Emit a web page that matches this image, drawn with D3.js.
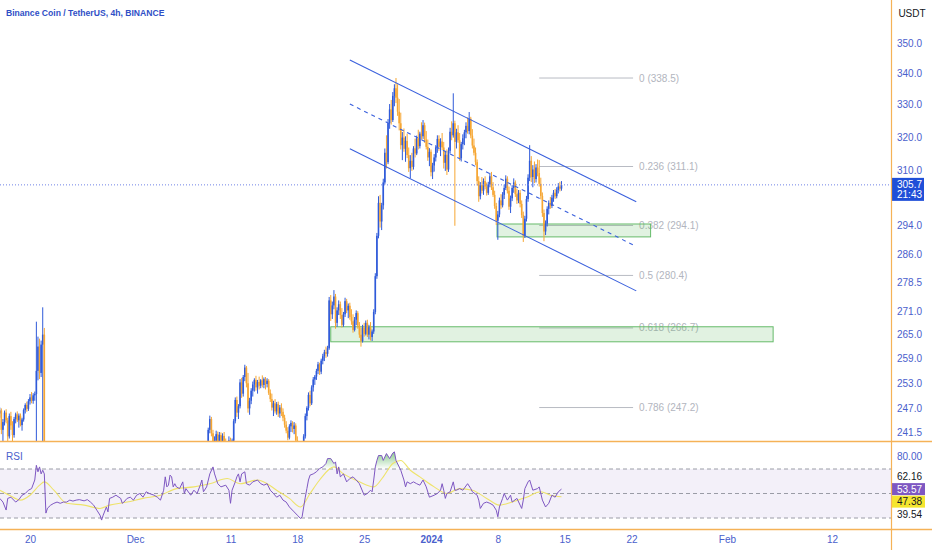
<!DOCTYPE html>
<html>
<head>
<meta charset="utf-8">
<title>Binance Coin / TetherUS, 4h</title>
<script src="https://cdn.jsdelivr.net/npm/d3@7/dist/d3.min.js"></script>
<style>
  html, body { margin: 0; padding: 0; background: #fff; overflow: hidden; }
  svg { display: block; font-family: "Liberation Sans", Arial, sans-serif; }
</style>
</head>
<body>
<svg id="chart" width="932" height="550"></svg>
<script>
// 4h candles, index 0 = 16 Nov 2023 16:00 UTC  ->  [index, open, high, low, close]
// candles 30..130 trade under the visible price range, so they are not listed
const candles = [
  [0,244,246.5,242.5,245.8],[1,245.8,247.2,244.8,246.5],[2,246.5,247,241,242],[3,242,244.5,238,243.8],
  [4,243.8,246.5,243,246],[5,246,246.8,243.5,244.2],[6,244.2,244.8,238.5,240.5],[7,240.5,245.8,240,245.2],
  [8,245.2,246.2,242,243],[9,243,244,239,240.8],[10,240.8,245,240.2,244.5],[11,244.5,246,243.5,245.6],
  [12,245.6,246.3,243.8,244.2],[13,244.2,245.8,242.5,245.3],[14,245.3,245.8,242.8,243.1],[15,243.1,244.8,241.8,244.4],
  [16,244.4,247,243.9,246.6],[17,246.6,248.2,245.8,247.8],[18,247.8,248.6,246.2,246.9],[19,246.9,249.2,246.4,248.7],
  [20,248.7,250.4,247.9,249.6],[21,249.6,250.9,248.2,248.8],[22,248.8,250.6,248.1,250.1],[23,250.1,251,248.8,250.4],
  [24,250.4,268.3,239,256],[25,256,264.5,253.7,262],[26,262,264,254,255.5],[27,255.5,263.5,254.5,262.5],
  [28,262.5,272,238,265],[29,265,266.7,225,229],
  [131,236,239,234.5,238],[132,238,242.5,237.5,242],[133,242,245.3,241.2,244.5],[134,244.5,245,240.5,241.2],
  [135,241.2,242,238,238.8],[136,238.8,240.5,237,239.5],[137,239.5,241.8,238.5,241],[138,241,241.6,238.2,239],
  [139,239,241.5,238,240.8],[140,240.8,241.4,238.5,239.2],[141,239.2,241.2,237.8,240.6],[142,240.6,241.5,238,238.6],
  [143,238.6,240,236.5,237.5],[144,237.5,239.2,236,238.8],[145,238.8,240.5,237.5,239.6],[146,239.6,240.2,237.2,238],
  [147,238,240,236.8,239.5],[148,239.5,244.5,239,244],[149,244,249.6,243.5,249],[150,249,249.8,245,246],
  [151,246,248,244.5,247.5],[152,247.5,254,247,253.2],[153,253.2,254.3,249.5,250.5],[154,250.5,255,249.8,254.5],
  [155,254.5,257.5,253.5,256.8],[156,256.8,257.2,252,253],[157,253,255.5,246,247],[158,247,249.5,245.5,248.8],
  [159,248.8,251.8,248,251.2],[160,251.2,253.4,249.8,252.7],[161,252.7,254.2,251,253.8],[162,253.8,254.8,251.2,252],
  [163,252,253.8,250.5,253.3],[164,253.3,254.6,251.5,252.4],[165,252.4,254,251.8,253.7],[166,253.7,254.9,252,252.6],
  [167,252.6,254.4,251.8,254],[168,254,254.5,251.5,252.8],[169,252.8,254.2,252,253.6],[170,253.6,254,250.2,250.7],
  [171,250.7,251.5,248.5,249.2],[172,249.2,250.5,246.5,247.2],[173,247.2,248.8,245.2,248.2],[174,248.2,249.2,245.8,246.3],
  [175,246.3,248.5,245.5,248],[176,248,248.6,245,245.8],[177,245.8,247.8,244.8,247.2],[178,247.2,248.2,245.2,246.2],
  [179,246.2,247,244,244.8],[180,244.8,245.5,242.5,243.2],[181,243.2,244,241.2,241.8],[182,241.8,242.6,239.6,240.2],
  [183,240.2,243.3,239.8,242.8],[184,242.8,244.2,241.5,243.6],[185,243.6,244,241.4,242.2],[186,242.2,243.8,241,243],
  [187,243,243.5,239,239.6],[188,239.6,240.5,236,237],[189,237,238.2,234.5,235.5],[190,235.5,237.5,234,236.8],
  [191,236.8,238.6,235.5,238.2],[192,238.2,241,237.6,240.5],[193,240.5,245.8,240,245.2],[194,245.2,247.5,244.2,247.1],
  [195,247.1,250.8,246.5,250.2],[196,250.2,251.2,247.5,248.2],[197,248.2,252.5,247.8,252],[198,252,254.5,251,253.9],
  [199,253.9,255,252.6,254.6],[200,254.6,256.5,253.8,256],[201,256,258.2,255.2,257.6],[202,257.6,258,255,255.8],
  [203,255.8,259,255.2,258.5],[204,258.5,260.2,257.6,259.6],[205,259.6,261.2,258.4,260.6],[206,260.6,262,259.2,260.2],
  [207,260.2,262.2,259.5,261.6],[208,261.6,274.7,261.2,273.8],[209,273.8,275.2,268.5,270.2],[210,270.2,273.5,269,272.5],
  [211,272.5,276.5,271.5,274.8],[212,274.8,275.5,266.5,268],[213,268,272,267,271.2],[214,271.2,273.8,270,272.8],
  [215,272.8,273.5,269,270],[216,270,271.8,266.8,267.5],[217,267.5,270.8,267,270.2],[218,270.2,274.5,269.5,273.6],
  [219,273.6,274.2,270.5,271.2],[220,271.2,273,269.2,272.4],[221,272.4,273.2,268.8,269.5],[222,269.5,271.5,267.5,268.4],
  [223,268.4,270.2,265.5,266.2],[224,266.2,269.5,265.8,268.8],[225,268.8,271.2,267.4,270.5],[226,270.5,271,266.5,267.3],
  [227,267.3,268.2,264.2,265],[228,265,266.8,262,263.4],[229,263.4,267.5,263,266.8],[230,266.8,268,264.5,265.2],
  [231,265.2,268.6,264.8,268],[232,268,268.8,264.4,265],[233,265,267.5,263.8,266.9],[234,266.9,268.2,263.5,264.4],
  [235,264.4,266.3,263.4,265.8],[236,265.8,271.5,265.2,270.8],[237,270.8,281,270.2,280.2],[238,280.2,292,279.5,291.2],
  [239,291.2,302.4,290.5,300.5],[240,300.5,302.8,293.5,295.2],[241,295.2,300.5,292.8,299.8],[242,299.8,307.5,298.6,306.4],
  [243,306.4,316.5,305.8,315.2],[244,315.2,320.5,310.5,312.4],[245,312.4,325.5,311.8,324.2],[246,324.2,330.2,322.5,328.5],
  [247,328.5,331.5,323.8,325.2],[248,325.2,334,324.6,332.8],[249,332.8,336.5,329.5,335.2],[250,335.2,338.5,330.5,332.2],
  [251,332.2,336.5,326.5,327.8],[252,327.8,331.8,322,324.2],[253,324.2,327.5,316.2,317.5],[254,317.5,321.5,313,319.8],
  [255,319.8,322.6,315.5,316.4],[256,316.4,320.2,312.5,318.8],[257,318.8,321,313.6,314.5],[258,314.5,316.8,309.5,310.6],
  [259,310.6,314.5,307.6,312.8],[260,312.8,315.2,309.8,311],[261,311,317.2,310.2,316.5],[262,316.5,319.5,313.8,315],
  [263,315,320.4,314.5,319.6],[264,319.6,322.2,316.2,317.2],[265,317.2,321.6,316.5,321],[266,321,324.5,319.2,320.2],
  [267,320.2,325.2,319.4,323.6],[268,323.6,324.4,318.2,319.2],[269,319.2,321.8,316.2,317],[270,317,319.2,312.8,313.8],
  [271,313.8,316.6,311.2,315.5],[272,315.5,316.2,308.2,309.4],[273,309.4,312.2,307.4,311.4],[274,311.4,314.8,309.6,313.8],
  [275,313.8,317.5,312.6,316.8],[276,316.8,320.5,315.2,319.4],[277,319.4,320.5,315.8,317],[278,317,319.6,314.2,318.6],
  [279,318.6,321.2,316,316.8],[280,316.8,318.5,310.5,312.2],[281,312.2,315.8,309.8,314.6],[282,314.6,316.2,308.6,310.2],
  [283,310.2,316.8,309.5,315.8],[284,315.8,322.8,315,321.6],[285,321.6,324.8,319,320.5],[286,320.5,333.6,319.8,324.2],
  [287,324.2,325,294,318.5],[288,318.5,322.5,316.5,321.4],[289,321.4,323.6,318.2,319],[290,319,321.2,312.8,313.6],
  [291,313.6,318.5,312.6,317.8],[292,317.8,320.8,316.2,319.6],[293,319.6,322.2,317.5,321.4],[294,321.4,324.5,319.6,323.4],
  [295,323.4,326,321,321.8],[296,321.8,327.7,320.8,325.6],[297,325.6,326.2,319.6,320.4],[298,320.4,322.4,316.5,317.4],
  [299,317.4,319.5,314.4,315.2],[300,315.2,316.8,311.5,312.4],[301,312.4,313.2,305.5,306.8],[302,306.8,308.2,300.8,302.4],
  [303,302.4,306.5,301.5,305.6],[304,305.6,308,303.2,304],[305,304,307.6,302.8,306.8],[306,306.8,308.2,304.4,305.2],
  [307,305.2,306.4,302.6,303.4],[308,303.4,306.6,302.8,305.8],[309,305.8,309.2,305,308.2],[310,308.2,309.5,304.2,305],
  [311,305,306.5,302.2,302.8],[312,302.8,304,298.8,299.6],[313,299.6,300.5,294.2,295.4],[314,295.4,298.2,290.1,297.2],
  [315,297.2,302,296.4,301.2],[316,301.2,303,298.8,299.8],[317,299.8,303.6,299.2,302.8],[318,302.8,305.8,301.6,304.8],
  [319,304.8,308.5,304.2,307.5],[320,307.5,308.2,303.2,304],[321,304,305.2,298.5,299.4],[322,299.4,302.6,297.6,301.8],
  [323,301.8,305.6,301,304.8],[324,304.8,307.6,303.4,306.4],[325,306.4,307,302.2,303],[326,303,304.6,300.2,301.2],
  [327,301.2,304.2,300.4,303.4],[328,303.4,304.2,299.2,300.2],[329,300.2,301.2,296.2,297],[330,297,298,289.5,291.2],
  [331,291.2,296.8,290.6,296],[332,296,302.5,295.2,301.6],[333,301.6,308.8,300.8,307.8],[334,307.8,317.5,306.8,312.8],
  [335,312.8,314.2,306.5,308],[336,308,311.5,305,310.2],[337,310.2,312.6,306.2,307.4],[338,307.4,311.8,306.4,310.8],
  [339,310.8,313.2,308.2,309.2],[340,309.2,313,305.2,306],[341,306,307.8,301.5,302.5],[342,302.5,303.5,296.5,297.6],
  [343,297.6,298.6,289.7,292.4],[344,292.4,295.5,291.4,294.6],[345,294.6,299.5,293.8,298.8],[346,298.8,301.2,297.2,300.5],
  [347,300.5,302.2,298.8,299.6],[348,299.6,302.8,299,302],[349,302,304.2,300.8,303.4],[350,303.4,304.5,301.6,302.4],
  [351,302.4,305,301.8,304.2],[352,304.2,306.2,303.2,305.2],[353,305.2,306.6,303.8,304.6],[354,304.6,306.8,304,305.7]
];

// RSI (14): [candle index, value]
const rsiPoints = [
  [1,46],[3,43],[5,36.5],[6,46],[8,47],[11,43],[13,45],[15,48.6],[17,50],[19,52.7],[21,54],[23,61],[24,73],[25,67.7],
  [26,71.7],[27,66],[28,69],[29,66],[30,34],[31,38],[33,40.5],[35,42],[37,43],[39,42],[41,43],[43,43],[45,44.6],[47,43.8],
  [49,44.6],[51,45],[54,44],[56,45],[58,43],[60,40.5],[62,36.4],[64,32.3],[65,28.3],[66,32.3],[68,39],[69,35],[70,46],
  [72,47],[74,48.6],[77,46],[78,42],[79,43],[81,46],[83,47],[85,44.6],[87,48.6],[89,50],[91,47],[93,51.4],[95,50],
  [98,48.6],[100,47],[102,44.6],[104,52.7],[105,63.6],[106,55.4],[107,56.8],[108,65],[109,63.6],[110,55.4],[111,58],
  [112,55.4],[114,54],[116,59.5],[117,50],[118,54],[121,48.6],[123,52.7],[125,50],[127,56.8],[128,61],[129,51.4],
  [131,55.4],[133,66],[135,71.7],[136,66],[138,58],[140,55.4],[143,56.8],[145,52.7],[146,42],[147,52.7],[149,59.5],
  [150,63.6],[151,66],[152,59.5],[153,66],[155,67.7],[156,58],[158,56.8],[160,59.5],[163,61],[165,58],[167,56.8],
  [169,58],[171,52.7],[173,50],[175,47],[177,48.6],[179,44.6],[181,43],[183,39],[186,35],[188,32.3],[190,29.6],[191,31],
  [192,39],[193,47],[194,54],[195,61],[196,65],[198,66],[200,67.7],[202,70.4],[204,71.7],[206,74.5],[207,78.5],[209,78.5],
  [211,74.5],[212,75.8],[213,66],[214,71.7],[215,63.6],[217,66],[219,59.5],[221,62.2],[223,63.6],[225,61],[227,58],
  [230,48.6],[232,50],[234,52.7],[235,51.4],[236,61],[237,71.7],[238,77],[239,81],[241,81],[242,77],[244,82.6],[246,78.5],
  [248,83],[249,84],[250,77],[253,69],[255,61],[256,55.4],[257,59.5],[259,58],[261,59.5],[263,58],[265,56.8],[267,61],
  [269,55.4],[271,47],[274,48.6],[276,50],[278,52.7],[279,58],[280,52.7],[281,46],[282,50],[284,51.4],[286,59.5],
  [287,52.7],[288,52.7],[290,54],[292,52.7],[295,58],[297,54],[298,51.4],[301,48.6],[302,44.6],[303,37.8],[305,42],
  [307,43],[309,42],[311,40.5],[313,36.4],[314,31],[315,39],[317,46],[318,50],[320,44.6],[322,48.6],[323,43],[326,46],
  [328,40.5],[329,37.8],[330,44.6],[331,54],[333,59.5],[334,61],[336,52.7],[339,54],[340,55.4],[342,44.6],[344,39],
  [346,42],[348,48.6],[350,47],[352,51.4],[354,53.57]
];

// RSI-based moving average (yellow), same indexing
const rsiMaPoints = [
  [1,52.7],[7,48.6],[14,44.6],[20,48.6],[26,56.8],[29,59.5],[35,52.7],[43,42],[54,40.5],[64,37.8],[70,40.5],[81,43],
  [91,46],[102,48.6],[112,54],[123,55.4],[133,58],[144,62.2],[152,58],[163,61],[169,58],[175,52.7],[183,46],[190,39],
  [196,50],[202,61],[211,71.7],[217,66],[227,59.5],[236,55.4],[242,63.6],[248,74.5],[253,77],[259,69],[265,63.6],
  [274,55.4],[282,50],[290,54],[298,52.7],[307,46],[315,40.5],[323,43],[332,47],[341,51.4],[347,48.6],[354,47.38]
];

const priceTicks = [350, 340, 330, 320, 310, 294, 286, 278.5, 271, 265, 259, 253, 247, 241.5];
const timeTicks = ["2023-11-20", "2023-12-01", "2023-12-11", "2023-12-18", "2023-12-25", "2024-01-01",
                   "2024-01-08", "2024-01-15", "2024-01-22", "2024-02-01", "2024-02-12"];
const timeTickLabels = ["20", "Dec", "11", "18", "25", "2024", "8", "15", "22", "Feb", "12"];

const fibLevels = [0, 0.236, 0.382, 0.5, 0.618, 0.786];
const fibPrices = [338.5, 311.1, 294.1, 280.4, 266.7, 247.2];
const fibSpan = ["2024-01-12T08:00Z", "2024-01-22T04:00Z"];

// descending channel: [start time, start price, end time, end price, dashed]
const channelLines = [
  ["2023-12-23T12:00Z", 344.4, "2024-01-22T12:00Z", 300.8, false],
  ["2023-12-23T12:00Z", 330.2, "2024-01-22T04:00Z", 288.7, true],
  ["2023-12-23T12:00Z", 316.4, "2024-01-22T12:00Z", 276.3, false]
];

// support zones: [start time, end time, top price, bottom price]
const zones = [
  ["2024-01-07T22:00Z", "2024-01-24T00:00Z", 294.5, 290.9],
  ["2023-12-21T12:00Z", "2024-02-05T20:00Z", 267.0, 263.2]
];

const lastPrice = 305.7;
const barCountdown = "21:43";
const rsiLevels = [70, 50, 30];
const rsiScaleTicks = [80];
const rsiLabelValues = [62.16, 53.57, 47.38, 39.54];
const rsiLabelKinds = ["plain", "rsi", "ma", "plain"];

// ---------------------------------------------------------------

const W = 932, H = 550;
const axisX = 891;
const priceBottom = 441;
const rsiTop = 442, rsiBottom = 529;

const START = Date.UTC(2023, 10, 16, 16);
const STEP = 4 * 3600 * 1000;
const candleTime = i => new Date(START + i * STEP);

const upColor = "#2f5ad9";
const downColor = "#f6a632";
const chanColor = "#3a60dd";
const axisText = "#4a60cc";
const sepColor = "#f5b257";

const svg = d3.select("#chart");
const defs = svg.append("defs");

defs.append("clipPath").attr("id", "clip-price")
  .append("rect").attr("x", 0).attr("y", 0).attr("width", axisX).attr("height", priceBottom);
defs.append("clipPath").attr("id", "clip-rsi")
  .append("rect").attr("x", 0).attr("y", rsiTop).attr("width", axisX).attr("height", rsiBottom - rsiTop);

const x = d3.scaleUtc()
  .domain([new Date("2023-11-20T00:00Z"), new Date("2024-02-12T00:00Z")])
  .range([30, 832]);

const y = d3.scaleLog()
  .domain([241.5, 350])
  .range([432, 43]);

const yRsi = d3.scaleLinear()
  .domain([30, 70])
  .range([518, 469]);

svg.append("rect").attr("width", W).attr("height", H).attr("fill", "#fff");

// ---- price pane ----
const price = svg.append("g").attr("clip-path", "url(#clip-price)");

const fx0 = x(new Date(fibSpan[0]));
const fx1 = x(new Date(fibSpan[1]));

const fib = price.append("g")
  .selectAll("g")
  .data(fibLevels)
  .join("g");

fib.append("line")
  .attr("x1", fx0)
  .attr("x2", fx1)
  .attr("y1", (_, i) => y(fibPrices[i]))
  .attr("y2", (_, i) => y(fibPrices[i]))
  .attr("stroke", "#b8bbc3")
  .attr("stroke-width", 1);

fib.append("text")
  .attr("x", fx1 + 6)
  .attr("y", (_, i) => y(fibPrices[i]))
  .attr("dy", "0.35em")
  .attr("font-size", 10)
  .attr("fill", "#b2b5be")
  .text((d, i) => `${d} (${fibPrices[i].toFixed(1)})`);

price.append("g")
  .selectAll("rect")
  .data(zones)
  .join("rect")
  .attr("x", d => x(new Date(d[0])))
  .attr("width", d => x(new Date(d[1])) - x(new Date(d[0])))
  .attr("y", d => y(d[2]))
  .attr("height", d => y(d[3]) - y(d[2]))
  .attr("fill", "rgba(76,175,80,0.17)")
  .attr("stroke", "#66bb6a")
  .attr("stroke-width", 1);

const bars = price.append("g")
  .selectAll("g")
  .data(candles)
  .join("g")
  .attr("fill", d => d[4] >= d[1] ? upColor : downColor)
  .attr("stroke", d => d[4] >= d[1] ? upColor : downColor);

bars.append("line")
  .attr("x1", d => x(candleTime(d[0])))
  .attr("x2", d => x(candleTime(d[0])))
  .attr("y1", d => y(d[2]))
  .attr("y2", d => y(d[3]))
  .attr("stroke-width", 1);

bars.append("rect")
  .attr("x", d => x(candleTime(d[0])) - 0.8)
  .attr("width", 1.6)
  .attr("y", d => y(Math.max(d[1], d[4])))
  .attr("height", d => Math.max(0.8, Math.abs(y(d[1]) - y(d[4]))))
  .attr("stroke", "none");

price.append("g")
  .selectAll("line")
  .data(channelLines)
  .join("line")
  .attr("x1", d => x(new Date(d[0])))
  .attr("y1", d => y(d[1]))
  .attr("x2", d => x(new Date(d[2])))
  .attr("y2", d => y(d[3]))
  .attr("stroke", chanColor)
  .attr("stroke-width", 1.1)
  .attr("stroke-dasharray", d => d[4] ? "4,4" : null);

price.append("line")
  .attr("x1", 0)
  .attr("x2", axisX)
  .attr("y1", y(lastPrice))
  .attr("y2", y(lastPrice))
  .attr("stroke", "#6f83e6")
  .attr("stroke-width", 1)
  .attr("stroke-dasharray", "1,2");

svg.append("text")
  .attr("x", 6)
  .attr("y", 16)
  .attr("font-size", 8.6)
  .attr("font-weight", "bold")
  .attr("fill", "#2f4fc6")
  .text("Binance Coin / TetherUS, 4h, BINANCE");

// ---- price axis ----
const priceAxis = svg.append("g")
  .attr("transform", `translate(${axisX},0)`)
  .call(d3.axisRight(y).tickValues(priceTicks).tickFormat(d3.format(".1f")).tickSize(0).tickPadding(6));
priceAxis.select(".domain").remove();
priceAxis.selectAll("text").attr("font-size", 10).attr("fill", axisText).attr("font-family", null);

svg.append("text")
  .attr("x", 912)
  .attr("y", 13)
  .attr("dy", "0.35em")
  .attr("text-anchor", "middle")
  .attr("font-size", 10)
  .attr("fill", "#131722")
  .text("USDT");

const lastY = y(lastPrice);
svg.append("rect")
  .attr("x", axisX + 1)
  .attr("y", lastY - 7)
  .attr("width", 32)
  .attr("height", 23)
  .attr("fill", "#1f4fd8");
svg.append("text")
  .attr("x", axisX + 6)
  .attr("y", lastY)
  .attr("dy", "0.35em")
  .attr("font-size", 10)
  .attr("fill", "#fff")
  .text(lastPrice.toFixed(1));
svg.append("text")
  .attr("x", axisX + 6)
  .attr("y", lastY + 10)
  .attr("dy", "0.35em")
  .attr("font-size", 10)
  .attr("fill", "#fff")
  .text(barCountdown);

// ---- RSI pane ----
const rsi = svg.append("g").attr("clip-path", "url(#clip-rsi)");

rsi.append("rect")
  .attr("x", 0)
  .attr("width", axisX)
  .attr("y", yRsi(70))
  .attr("height", yRsi(30) - yRsi(70))
  .attr("fill", "#7e57c2")
  .attr("fill-opacity", 0.09);

rsi.append("g")
  .selectAll("line")
  .data(rsiLevels)
  .join("line")
  .attr("x1", 0)
  .attr("x2", axisX)
  .attr("y1", d => yRsi(d))
  .attr("y2", d => yRsi(d))
  .attr("stroke", "#9a9ca6")
  .attr("stroke-width", 1)
  .attr("stroke-dasharray", "4,3");

const obGrad = defs.append("linearGradient")
  .attr("id", "ob-grad")
  .attr("gradientUnits", "userSpaceOnUse")
  .attr("x1", 0).attr("x2", 0)
  .attr("y1", yRsi(88)).attr("y2", yRsi(70));
obGrad.append("stop").attr("offset", 0).attr("stop-color", "#4caf50").attr("stop-opacity", 0.85);
obGrad.append("stop").attr("offset", 1).attr("stop-color", "#4caf50").attr("stop-opacity", 0);

const osGrad = defs.append("linearGradient")
  .attr("id", "os-grad")
  .attr("gradientUnits", "userSpaceOnUse")
  .attr("x1", 0).attr("x2", 0)
  .attr("y1", yRsi(30)).attr("y2", yRsi(10));
osGrad.append("stop").attr("offset", 0).attr("stop-color", "#f23645").attr("stop-opacity", 0);
osGrad.append("stop").attr("offset", 1).attr("stop-color", "#f23645").attr("stop-opacity", 0.8);

const rx = d => x(candleTime(d[0]));

rsi.append("path")
  .datum(rsiPoints)
  .attr("fill", "url(#ob-grad)")
  .attr("d", d3.area().x(rx).y0(yRsi(70)).y1(d => yRsi(Math.max(70, d[1]))));

rsi.append("path")
  .datum(rsiPoints)
  .attr("fill", "url(#os-grad)")
  .attr("d", d3.area().x(rx).y0(yRsi(30)).y1(d => yRsi(Math.min(30, d[1]))));

rsi.append("path")
  .datum(rsiMaPoints)
  .attr("fill", "none")
  .attr("stroke", "#eee36a")
  .attr("stroke-width", 1.1)
  .attr("d", d3.line().x(rx).y(d => yRsi(d[1])).curve(d3.curveMonotoneX));

rsi.append("path")
  .datum(rsiPoints)
  .attr("fill", "none")
  .attr("stroke", "#7e57c2")
  .attr("stroke-width", 1)
  .attr("d", d3.line().x(rx).y(d => yRsi(d[1])));

svg.append("text")
  .attr("x", 6)
  .attr("y", 456)
  .attr("dy", "0.35em")
  .attr("font-size", 10)
  .attr("fill", axisText)
  .text("RSI");

// RSI scale + value labels
const rsiAxis = svg.append("g")
  .attr("transform", `translate(${axisX},0)`)
  .call(d3.axisRight(yRsi).tickValues(rsiScaleTicks).tickFormat(d3.format(".2f")).tickSize(0).tickPadding(6));
rsiAxis.select(".domain").remove();
rsiAxis.selectAll("text").attr("font-size", 10).attr("fill", axisText).attr("font-family", null);

// push overlapping value labels apart, anchored on the RSI value
const gap = 12.5;
const labelY = rsiLabelValues.map(v => yRsi(v));
const anchor = rsiLabelKinds.indexOf("rsi");
for (let i = anchor + 1; i < labelY.length; i++) labelY[i] = Math.max(labelY[i], labelY[i - 1] + gap);
for (let i = anchor - 1; i >= 0; i--) labelY[i] = Math.min(labelY[i], labelY[i + 1] - gap);

const rsiLabels = svg.append("g")
  .selectAll("g")
  .data(rsiLabelValues)
  .join("g")
  .attr("transform", (_, i) => `translate(${axisX},${labelY[i]})`);

rsiLabels.filter((_, i) => rsiLabelKinds[i] !== "plain")
  .append("rect")
  .attr("x", 1)
  .attr("y", -6)
  .attr("width", 33)
  .attr("height", 12)
  .attr("fill", d => d === rsiLabelValues[anchor] ? "#7e57c2" : "#f5e52e");

rsiLabels.append("text")
  .attr("x", 6)
  .attr("dy", "0.35em")
  .attr("font-size", 10)
  .attr("fill", (_, i) => rsiLabelKinds[i] === "rsi" ? "#fff" : "#131722")
  .text(d => d.toFixed(2));

// ---- time axis ----
const timeAxis = svg.append("g")
  .attr("transform", `translate(0,${rsiBottom})`)
  .call(d3.axisBottom(x)
    .tickValues(timeTicks.map(d => new Date(d + "T00:00Z")))
    .tickFormat((_, i) => timeTickLabels[i])
    .tickSize(0)
    .tickPadding(7));
timeAxis.select(".domain").remove();
timeAxis.selectAll("text")
  .attr("font-size", 10)
  .attr("fill", axisText)
  .attr("font-family", null)
  .attr("font-weight", (_, i) => timeTickLabels[i] === "2024" ? "bold" : null);

// ---- pane borders ----
svg.append("line")
  .attr("x1", 0).attr("x2", W)
  .attr("y1", priceBottom + 0.5).attr("y2", priceBottom + 0.5)
  .attr("stroke", sepColor).attr("stroke-width", 1.5);
svg.append("line")
  .attr("x1", 0).attr("x2", W)
  .attr("y1", rsiBottom + 0.5).attr("y2", rsiBottom + 0.5)
  .attr("stroke", sepColor).attr("stroke-width", 1.5);
svg.append("line")
  .attr("x1", axisX + 0.5).attr("x2", axisX + 0.5)
  .attr("y1", 0).attr("y2", H)
  .attr("stroke", sepColor).attr("stroke-width", 1.2);
</script>
</body>
</html>
